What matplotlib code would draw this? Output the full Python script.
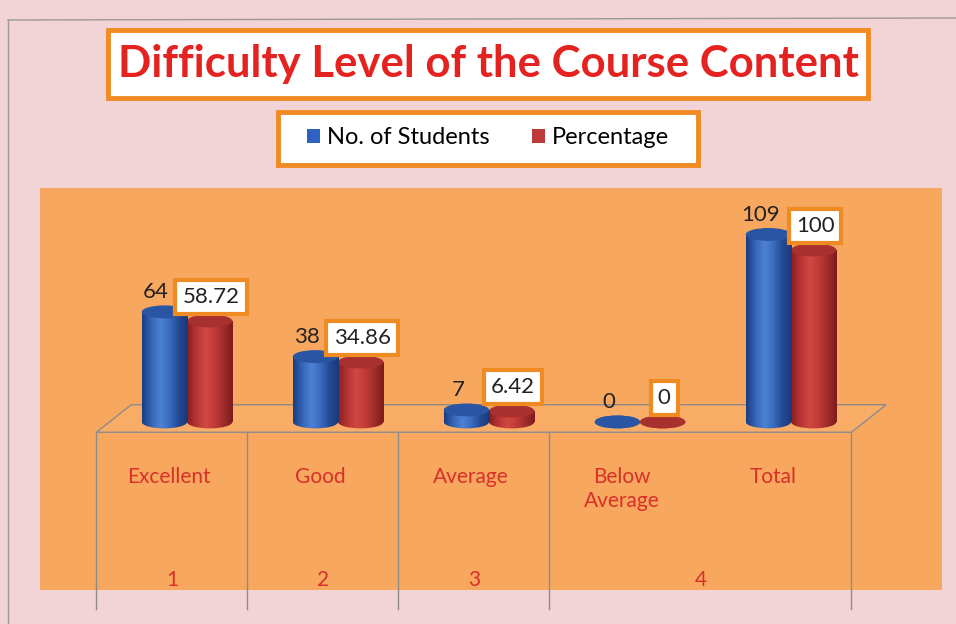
import matplotlib
matplotlib.use("Agg")
import matplotlib.pyplot as plt
import numpy as np
from matplotlib.patches import Ellipse, Polygon, Rectangle, Patch
from matplotlib.colors import LinearSegmentedColormap

plt.rcParams['font.family'] = ['Lato', 'DejaVu Sans']

# data
categories = ["Excellent", "Good", "Average", "Below\nAverage", "Total"]
students = [64, 38, 7, 0, 109]
percentage = [58.72, 34.86, 6.42, 0, 100]
groups = ["1", "2", "3", "4"]
group_sizes = [1, 1, 1, 2]

ORANGE = '#f08a22'
LABEL_RED = '#d8302a'
PINK = '#f2d3d6'
PLOT_BG = '#f7a75e'

W, H = 956, 624
fig = plt.figure(figsize=(W / 100, H / 100), dpi=100)
fig.patch.set_facecolor(PINK)


def fx(px):
    return px / W


def fy(py):
    return 1 - py / H


def fig_box(l, t, r, b):
    # white box with orange border, given in pixels from the top left
    fig.add_artist(Rectangle((fx(l), fy(b)), fx(r) - fx(l), fy(t) - fy(b),
                             fc='white', ec=ORANGE, lw=3.5, transform=fig.transFigure))


# outer frame of the slide
fig.add_artist(plt.Line2D([fx(8), fx(956)], [fy(20), fy(18)], color='#9a9a9a', lw=1))
fig.add_artist(plt.Line2D([fx(8), fx(8)], [fy(20), fy(624)], color='#9a9a9a', lw=1))

ax = fig.add_axes([fx(40), fy(590), fx(942) - fx(40), fy(188) - fy(590)])
ax.set_facecolor(PLOT_BG)
for s in ax.spines.values():
    s.set_visible(False)
ax.set_xticks([])
ax.set_yticks([])
xlim = (-0.974, 5.0)
ylim = (-97.7, 136)

# floor of the 3d box
front, back, shift = -6, 10, 0.23
edges = np.concatenate([[0], np.cumsum(group_sizes)]) - 0.6
x0, x1 = edges[0], edges[-1]
floor = Polygon([(x0, front), (x1, front), (x1 + shift, back), (x0 + shift, back)],
                closed=True, fc='#f8ac66', ec='#8c8c8c', lw=1, zorder=1)
ax.add_patch(floor)
for e in edges:
    ax.plot([e, e], [front, -109], color='#8c8c8c', lw=1, clip_on=False, zorder=1)

w = 0.30
eh = 7.5
blue_cmap = LinearSegmentedColormap.from_list(
    'bl', ['#1c3c80', '#3565b8', '#4f82d2', '#3a6cc0', '#244a94', '#1a387a'])
red_cmap = LinearSegmentedColormap.from_list(
    'rd', ['#8a1f1f', '#b83434', '#d04842', '#c03b38', '#a02c2a', '#7e1c1c'])
grad = np.linspace(0, 1, 64)[np.newaxis, :]


def shade(patch, xa, xb, ya, yb, cmap, z):
    im = ax.imshow(grad, extent=[xa, xb, ya, yb], aspect='auto', cmap=cmap,
                   zorder=z, interpolation='bicubic')
    im.set_clip_path(patch)


def cylinders(xs, vals, cmap, top_col, z):
    bars = ax.bar(xs, vals, width=w, color='none', edgecolor='none', zorder=z)
    for b, xc, v in zip(bars, xs, vals):
        bot = Ellipse((xc, 0), w, eh, fc='none', ec='none', zorder=z)
        ax.add_patch(bot)
        shade(bot, xc - w / 2, xc + w / 2, -eh, eh, cmap, z)
        if v > 0:
            shade(b, xc - w / 2, xc + w / 2, 0, v, cmap, z)
        top = Ellipse((xc, v), w, eh, fc=top_col, ec='none', zorder=z + 0.1)
        ax.add_patch(top)
    return bars


xpos = np.arange(len(categories))
cylinders(xpos + w / 2, percentage, red_cmap, '#a8302e', 3)
cylinders(xpos - w / 2, students, blue_cmap, '#2a55a2', 4)

# value labels
for xc, v in zip(xpos - w / 2, students):
    ax.annotate(str(v), (xc, v), xytext=(-6, 14), textcoords='offset points',
                ha='center', va='center', fontsize=16, color='#222222', zorder=6)
for xc, v in zip(xpos + w / 2, percentage):
    ax.annotate('{:g}'.format(v), (xc, v), xytext=(1, 17), textcoords='offset points',
                ha='center', va='center', fontsize=16, color='#222222', zorder=7,
                bbox=dict(boxstyle='square,pad=0.32', fc='white', ec=ORANGE, lw=3))

# category and group labels
for i, c in enumerate(categories):
    ax.text(i - 0.12, -26, c, ha='center', va='top', fontsize=15,
            color=LABEL_RED, linespacing=1.3, zorder=5)
for g, a, b in zip(groups, edges[:-1], edges[1:]):
    ax.text((a + b) / 2, -92, g, ha='center', va='center', fontsize=15,
            color=LABEL_RED, zorder=5)

ax.set_xlim(*xlim)
ax.set_ylim(*ylim)

# title
fig_box(108, 30, 868, 98)
fig.text(fx(488), fy(64), 'Difficulty Level of the Course Content', ha='center',
         va='center', fontsize=31.5, fontweight='bold', color='#e42320')

# legend
fig_box(278, 112, 698, 165)
handles = [Patch(fc='#2f62c0', ec='none', label='No. of Students'),
           Patch(fc='#c0393a', ec='none', label='Percentage')]
fig.legend(handles=handles, loc='center', bbox_to_anchor=(fx(488), fy(138)),
           ncol=2, fontsize=17, frameon=False, handlelength=0.55,
           handleheight=0.55, handletextpad=0.3, columnspacing=1.8)

fig.savefig('out.png', dpi=100, facecolor=fig.get_facecolor())
